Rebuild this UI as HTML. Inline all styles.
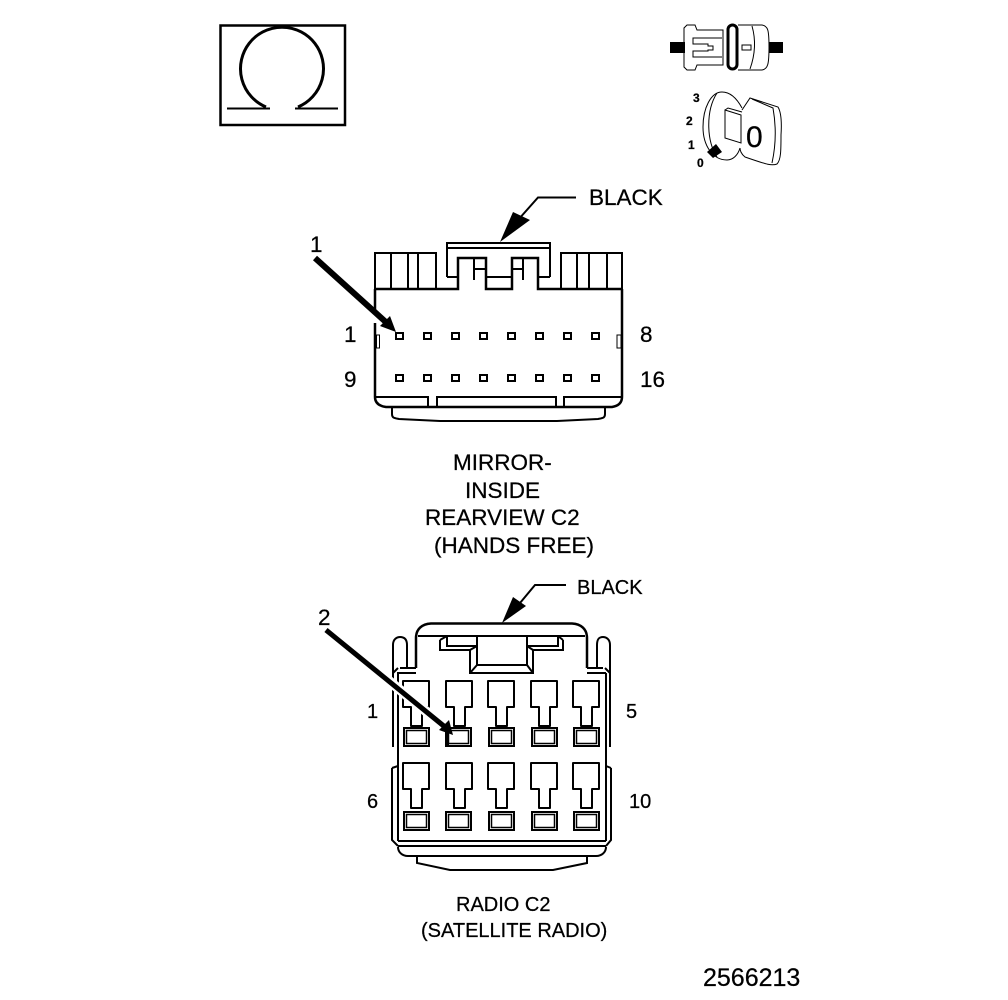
<!DOCTYPE html>
<html><head><meta charset="utf-8"><style>
html,body{margin:0;padding:0;background:#fff;width:1008px;height:1000px;overflow:hidden}
svg{display:block}
text{font-family:"Liberation Sans",sans-serif;fill:#000;stroke:#000;stroke-width:.25}
.l{fill:none;stroke:#000;stroke-width:2}
.t{fill:none;stroke:#000;stroke-width:1}
.h{fill:none;stroke:#000;stroke-width:3}
.m{fill:none;stroke:#000;stroke-width:2.500}
</style></head><body>
<svg width="1008" height="1000" viewBox="0 0 1008 1000" xmlns="http://www.w3.org/2000/svg">
<defs>
<g id="term"><path class="l" d="M1 1H27V27H20V46H9V27H1Z" stroke-linejoin="round"/></g>
<g id="sock"><rect x="1" y="1" width="25" height="18" class="l"/><rect x="3.500" y="3.500" width="20" height="13" fill="none" stroke="#000" stroke-width="1.500"/></g>
</defs>

<!-- omega -->
<rect x="220.500" y="25.500" width="124.500" height="99.500" class="m"/>
<path class="h" d="M266 107A41.500 41.500 0 1 1 298 107"/>
<path class="l" d="M227 108.500H270M295 108.500H338"/>

<!-- plug icon -->
<rect x="670" y="42" width="15" height="11" fill="#000"/>
<rect x="769" y="42" width="14" height="11" fill="#000"/>
<path class="t" d="M687 25H695L697 30H723V65H697L695 70H687L684 67V28Z"/>
<path class="t" d="M722 38H693V44H708V46H713V50H708V51H693V57H722"/>
<rect x="728" y="25" width="9" height="44" rx="4.500" class="h"/>
<path class="t" d="M738 25H762C768 26 769 30 769 47C769 64 768 69 762 70H738"/>
<path class="t" d="M752 26C756 40 755 55 750 69"/>
<rect x="742" y="45" width="9" height="5" class="t"/>
<!-- key icon -->
<path class="t" d="M742 108C735 95 728 92 722 92C711 92 703 108 703 127C703 146 713 160 727 160C733 160 738 155 740 148"/>
<path class="t" d="M717 93C706 110 706 140 717 157"/>
<path class="t" d="M725 110L741 115V143L725 138Z"/>
<path class="t" d="M725 110L728 108L742 112"/>
<path class="t" d="M742 110L750 98L778 107C781 112 782 120 781 135C781 150 781 160 777 164C772 166 768 165 745 157C741 154 740 150 740 148"/>
<path class="t" d="M752 99L773 108C776 125 776 145 772 163"/>
<polygon points="707,152 716,144 722,152 713,158" fill="#000"/>
<text x="746" y="147" font-size="30">0</text>
<text x="693" y="102" font-size="12" font-weight="bold">3</text>
<text x="686" y="125" font-size="12" font-weight="bold">2</text>
<text x="688" y="149" font-size="12" font-weight="bold">1</text>
<text x="697" y="167" font-size="12" font-weight="bold">0</text>

<!-- connector 1 -->
<text x="589" y="205" font-size="22.500">BLACK</text>
<path class="l" d="M576 197.500H538L518 220"/>
<polygon points="500,242 513,212 530,220" fill="#000"/>
<text x="310" y="252" font-size="22.500">1</text>
<path d="M315 258L388 324" stroke="#000" stroke-width="6" fill="none"/>
<polygon points="396,332 380,326 390,316" fill="#000"/>

<path class="l" d="M375 289V253H436V289M391 253V289M408 253V289M418 253V289M561 289V253H622V289M577 253V289M589 253V289M607 253V289"/>
<path class="m" d="M375 289H458V258H486V289H512V258H538V289H622"/>
<path class="l" d="M486 277H512"/>
<path class="l" d="M447 277V243H550V277M447 248H550M447 277H458M538 277H550"/>
<path class="l" d="M474 258V280M474 269H486M523 258V280M512 269H523"/>
<path class="m" d="M375 289V313M375 323V397C375 403 379 406 386 407H612C618 406 622 403 622 397V289"/>
<rect x="376.500" y="335" width="3" height="13" class="t"/>
<rect x="617" y="335" width="4" height="13" class="t"/>
<path class="l" d="M376 397H428V407M437 407V397H556V407M564 407V397H621"/>
<path class="l" d="M392 408V414C392 418 394 418 399 419L440 421H557L598 419C603 418 605 418 605 414V408"/>
<g fill="none" stroke="#000" stroke-width="2">
<rect x="396" y="333" width="7" height="6"/><rect x="424" y="333" width="7" height="6"/><rect x="452" y="333" width="7" height="6"/><rect x="480" y="333" width="7" height="6"/><rect x="508" y="333" width="7" height="6"/><rect x="536" y="333" width="7" height="6"/><rect x="564" y="333" width="7" height="6"/><rect x="592" y="333" width="7" height="6"/>
<rect x="396" y="375" width="7" height="6"/><rect x="424" y="375" width="7" height="6"/><rect x="452" y="375" width="7" height="6"/><rect x="480" y="375" width="7" height="6"/><rect x="508" y="375" width="7" height="6"/><rect x="536" y="375" width="7" height="6"/><rect x="564" y="375" width="7" height="6"/><rect x="592" y="375" width="7" height="6"/>
</g>
<text x="344" y="342" font-size="22.500">1</text>
<text x="344" y="387" font-size="22.500">9</text>
<text x="640" y="342" font-size="22.500">8</text>
<text x="640" y="387" font-size="22.500">16</text>

<text x="453" y="470" font-size="22.500">MIRROR-</text>
<text x="465" y="498" font-size="22.500">INSIDE</text>
<text x="425" y="525" font-size="22.500">REARVIEW C2</text>
<text x="434" y="553" font-size="22.500">(HANDS FREE)</text>

<!-- connector 2 -->
<text x="577" y="594" font-size="20">BLACK</text>
<path class="l" d="M566 585H535L520 603"/>
<polygon points="502,623 513,597 526,606" fill="#000"/>
<text x="318" y="625" font-size="22.500">2</text>

<path class="m" d="M416 668V638C416 629 422 624 431 623.500H572C581 624 587 629 587 638V668"/>
<path class="l" d="M418 636H585"/>
<path class="l" d="M393 747V645C393 639 397 637 400 637C404 637 407 639 407 645V668M400 668H416M397 673H416M393 673L398 668"/>
<path class="l" d="M610 747V645C610 639 606 637 603 637C599 637 597 639 597 645V668M603 668H587M606 673H587M610 673L605 668"/>
<path class="l" d="M477 636V665H527V636"/>
<path class="l" d="M470 650V673H533V650"/>
<path class="l" d="M440 640V650H470M447 636V646H477M563 640V650H533M558 636V646H527M470 673L477 665M533 673L527 665M440 640L447 636M563 640L558 636M470 650L477 646M533 650L527 646"/>
<path class="l" d="M398 673V841M606 673V841"/>

<use href="#term" x="402" y="680"/>
<use href="#term" x="445" y="680"/>
<use href="#term" x="487" y="680"/>
<use href="#term" x="530" y="680"/>
<use href="#term" x="572" y="680"/>
<use href="#sock" x="403" y="727"/>
<use href="#sock" x="445" y="727"/>
<use href="#sock" x="488" y="727"/>
<use href="#sock" x="531" y="727"/>
<use href="#sock" x="573" y="727"/>

<use href="#term" x="402" y="762"/>
<use href="#term" x="445" y="762"/>
<use href="#term" x="487" y="762"/>
<use href="#term" x="530" y="762"/>
<use href="#term" x="572" y="762"/>
<use href="#sock" x="403" y="811"/>
<use href="#sock" x="445" y="811"/>
<use href="#sock" x="488" y="811"/>
<use href="#sock" x="531" y="811"/>
<use href="#sock" x="573" y="811"/>

<path d="M332 634L445 727" stroke="#fff" stroke-width="10" fill="none"/>
<path d="M326 630L445 727" stroke="#000" stroke-width="5" fill="none"/>
<polygon points="453,735 439,730 449,720" fill="#000"/>
<rect x="445" y="730" width="4" height="16" fill="#000"/>

<path class="l" d="M392 768V840L398 846M611 768V840L606 846M392 768L398 766M611 768L606 766"/>
<path class="l" d="M398 841H606M398 846H606"/>
<path class="l" d="M398 847C398 852 402 856 408 856H596C602 856 606 852 606 847"/>
<path class="l" d="M417 856V863L450 870H553L587 863V856"/>

<text x="367" y="718" font-size="20">1</text>
<text x="626" y="718" font-size="20">5</text>
<text x="367" y="808" font-size="20">6</text>
<text x="629" y="808" font-size="20">10</text>

<text x="456" y="911" font-size="20">RADIO C2</text>
<text x="421" y="937" font-size="20">(SATELLITE RADIO)</text>
<text x="703" y="986" font-size="25">2566213</text>
</svg>
</body></html>
